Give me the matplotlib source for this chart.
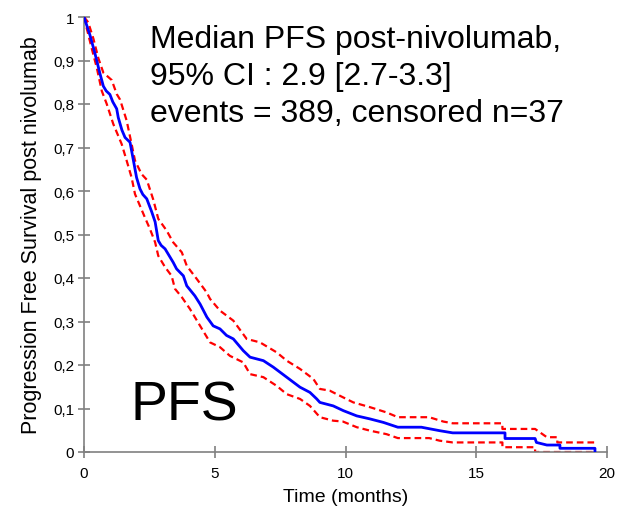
import matplotlib
matplotlib.use("Agg")
import matplotlib.pyplot as plt

plt.rcParams['font.family'] = ['Liberation Sans', 'DejaVu Sans']

# Kaplan-Meier estimate (months, survival)
km_t = [0, 0.23, 0.42, 0.61, 0.74, 0.85, 0.99, 1.1, 1.25, 1.31, 1.45, 1.57, 1.76, 1.89,
        2.01, 2.14, 2.25, 2.4, 2.59, 2.72, 2.84, 2.95, 3.1, 3.41, 3.54, 3.8, 3.93, 4.24,
        4.44, 4.7, 4.94, 5.2, 5.45, 5.71, 6.09, 6.35, 6.86, 7.24, 7.75, 8.26, 8.64, 8.9,
        9.02, 9.53, 9.92, 10.43, 10.94, 11.45, 12.0, 12.9, 13.6, 14.1, 16.1, 16.1,
        17.25, 17.3, 17.7, 18.2, 18.2, 19.54, 19.54]
km_s = [1.0, 0.958, 0.916, 0.87, 0.841, 0.83, 0.822, 0.805, 0.789, 0.769, 0.74, 0.723,
        0.712, 0.67, 0.631, 0.605, 0.592, 0.582, 0.552, 0.529, 0.486, 0.475, 0.467, 0.436,
        0.421, 0.405, 0.382, 0.359, 0.34, 0.31, 0.29, 0.283, 0.268, 0.26, 0.233, 0.218,
        0.21, 0.195, 0.172, 0.149, 0.137, 0.122, 0.114, 0.106, 0.095, 0.083, 0.076, 0.068,
        0.057, 0.057, 0.049, 0.044, 0.044, 0.031, 0.031, 0.022, 0.016, 0.016, 0.0085,
        0.0085, 0.0]

# upper 95% CI
up_t = [0, 0.16, 0.36, 0.55, 0.74, 1.06, 1.25, 1.38, 1.63, 1.82, 1.95, 2.2, 2.4, 2.65,
        2.84, 3.16, 3.41, 3.74, 3.93, 4.31, 4.69, 4.82, 5.2, 5.71, 6.22, 6.73, 7.37, 7.75,
        8.26, 8.77, 9.02, 9.4, 9.66, 10.3, 10.94, 11.57, 12.0, 13.2, 13.74, 14.1, 16.0,
        16.0, 17.25, 17.7, 18.1, 18.1, 19.54]
up_s = [1.0, 0.988, 0.95, 0.905, 0.872, 0.855, 0.823, 0.81, 0.762, 0.708, 0.67, 0.639,
        0.626, 0.58, 0.536, 0.509, 0.482, 0.459, 0.428, 0.398, 0.367, 0.352, 0.325, 0.302,
        0.26, 0.252, 0.229, 0.21, 0.191, 0.168, 0.145, 0.141, 0.133, 0.114, 0.103, 0.091,
        0.08, 0.08, 0.07, 0.066, 0.066, 0.053, 0.053, 0.034, 0.034, 0.022, 0.022]

# lower 95% CI
lo_t = [0, 0.1, 0.29, 0.49, 0.68, 0.87, 1.12, 1.44, 1.63, 1.82, 1.95, 2.14, 2.33, 2.52,
        2.72, 2.84, 3.1, 3.35, 3.48, 3.74, 4.05, 4.44, 4.82, 5.2, 5.58, 6.09, 6.35, 6.86,
        7.37, 7.75, 8.26, 8.64, 9.02, 9.53, 9.9, 10.43, 10.94, 11.57, 12.0, 13.2, 13.6,
        14.1, 16.0, 16.0, 17.25, 17.25, 19.54]
lo_s = [1.0, 0.975, 0.929, 0.883, 0.83, 0.8, 0.754, 0.708, 0.67, 0.631, 0.593, 0.566,
        0.539, 0.513, 0.482, 0.451, 0.425, 0.405, 0.375, 0.356, 0.329, 0.29, 0.252, 0.241,
        0.221, 0.206, 0.179, 0.172, 0.152, 0.133, 0.122, 0.106, 0.08, 0.072, 0.07, 0.057,
        0.049, 0.041, 0.032, 0.032, 0.026, 0.022, 0.022, 0.011, 0.011, 0.0, 0.0]

x_ticks = [0, 5, 10, 15, 20]
y_ticks = [0, 0.1, 0.2, 0.3, 0.4, 0.5, 0.6, 0.7, 0.8, 0.9, 1.0]
y_labels = ['0', '0,1', '0,2', '0,3', '0,4', '0,5', '0,6', '0,7', '0,8', '0,9', '1']

fig = plt.figure(figsize=(6.18, 5.10), dpi=100)
ax = fig.add_axes([84 / 618, 57 / 510, 523 / 618, 435 / 510])

ax.plot(up_t, up_s, color='red', lw=1.6, ls=(0, (3, 1.8)), zorder=2)
ax.plot(lo_t, lo_s, color='red', lw=1.6, ls=(0, (3, 1.8)), zorder=2)
ax.plot(km_t, km_s, color='blue', lw=2.0, zorder=3)

ax.set_xlim(0, 20)
ax.set_ylim(0, 1)
ax.set_xticks(x_ticks)
ax.set_yticks(y_ticks)
ax.set_yticklabels(y_labels)
for side in ['top', 'right']:
    ax.spines[side].set_visible(False)
for side in ['left', 'bottom']:
    ax.spines[side].set_color('#808080')
    ax.spines[side].set_linewidth(1.2)
ax.tick_params(direction='inout', length=8, width=1.2, color='#808080',
               labelsize=11, pad=3)
ax.tick_params(axis='x', pad=6)
ax.set_xlabel('Time (months)', fontsize=14, labelpad=6)
ax.set_ylabel('Progression Free Survival post nivolumab', fontsize=15.5, labelpad=8)

ax.text(0.126, 0.930, 'Median PFS post-nivolumab,', transform=ax.transAxes,
        fontsize=23, va='baseline')
ax.text(0.126, 0.846, '95% CI : 2.9 [2.7-3.3]', transform=ax.transAxes,
        fontsize=23, va='baseline')
ax.text(0.126, 0.762, 'events = 389, censored n=37', transform=ax.transAxes,
        fontsize=23, va='baseline')
ax.text(0.088, 0.075, 'PFS', transform=ax.transAxes, fontsize=40, va='baseline')

fig.savefig('out.png', dpi=100)
